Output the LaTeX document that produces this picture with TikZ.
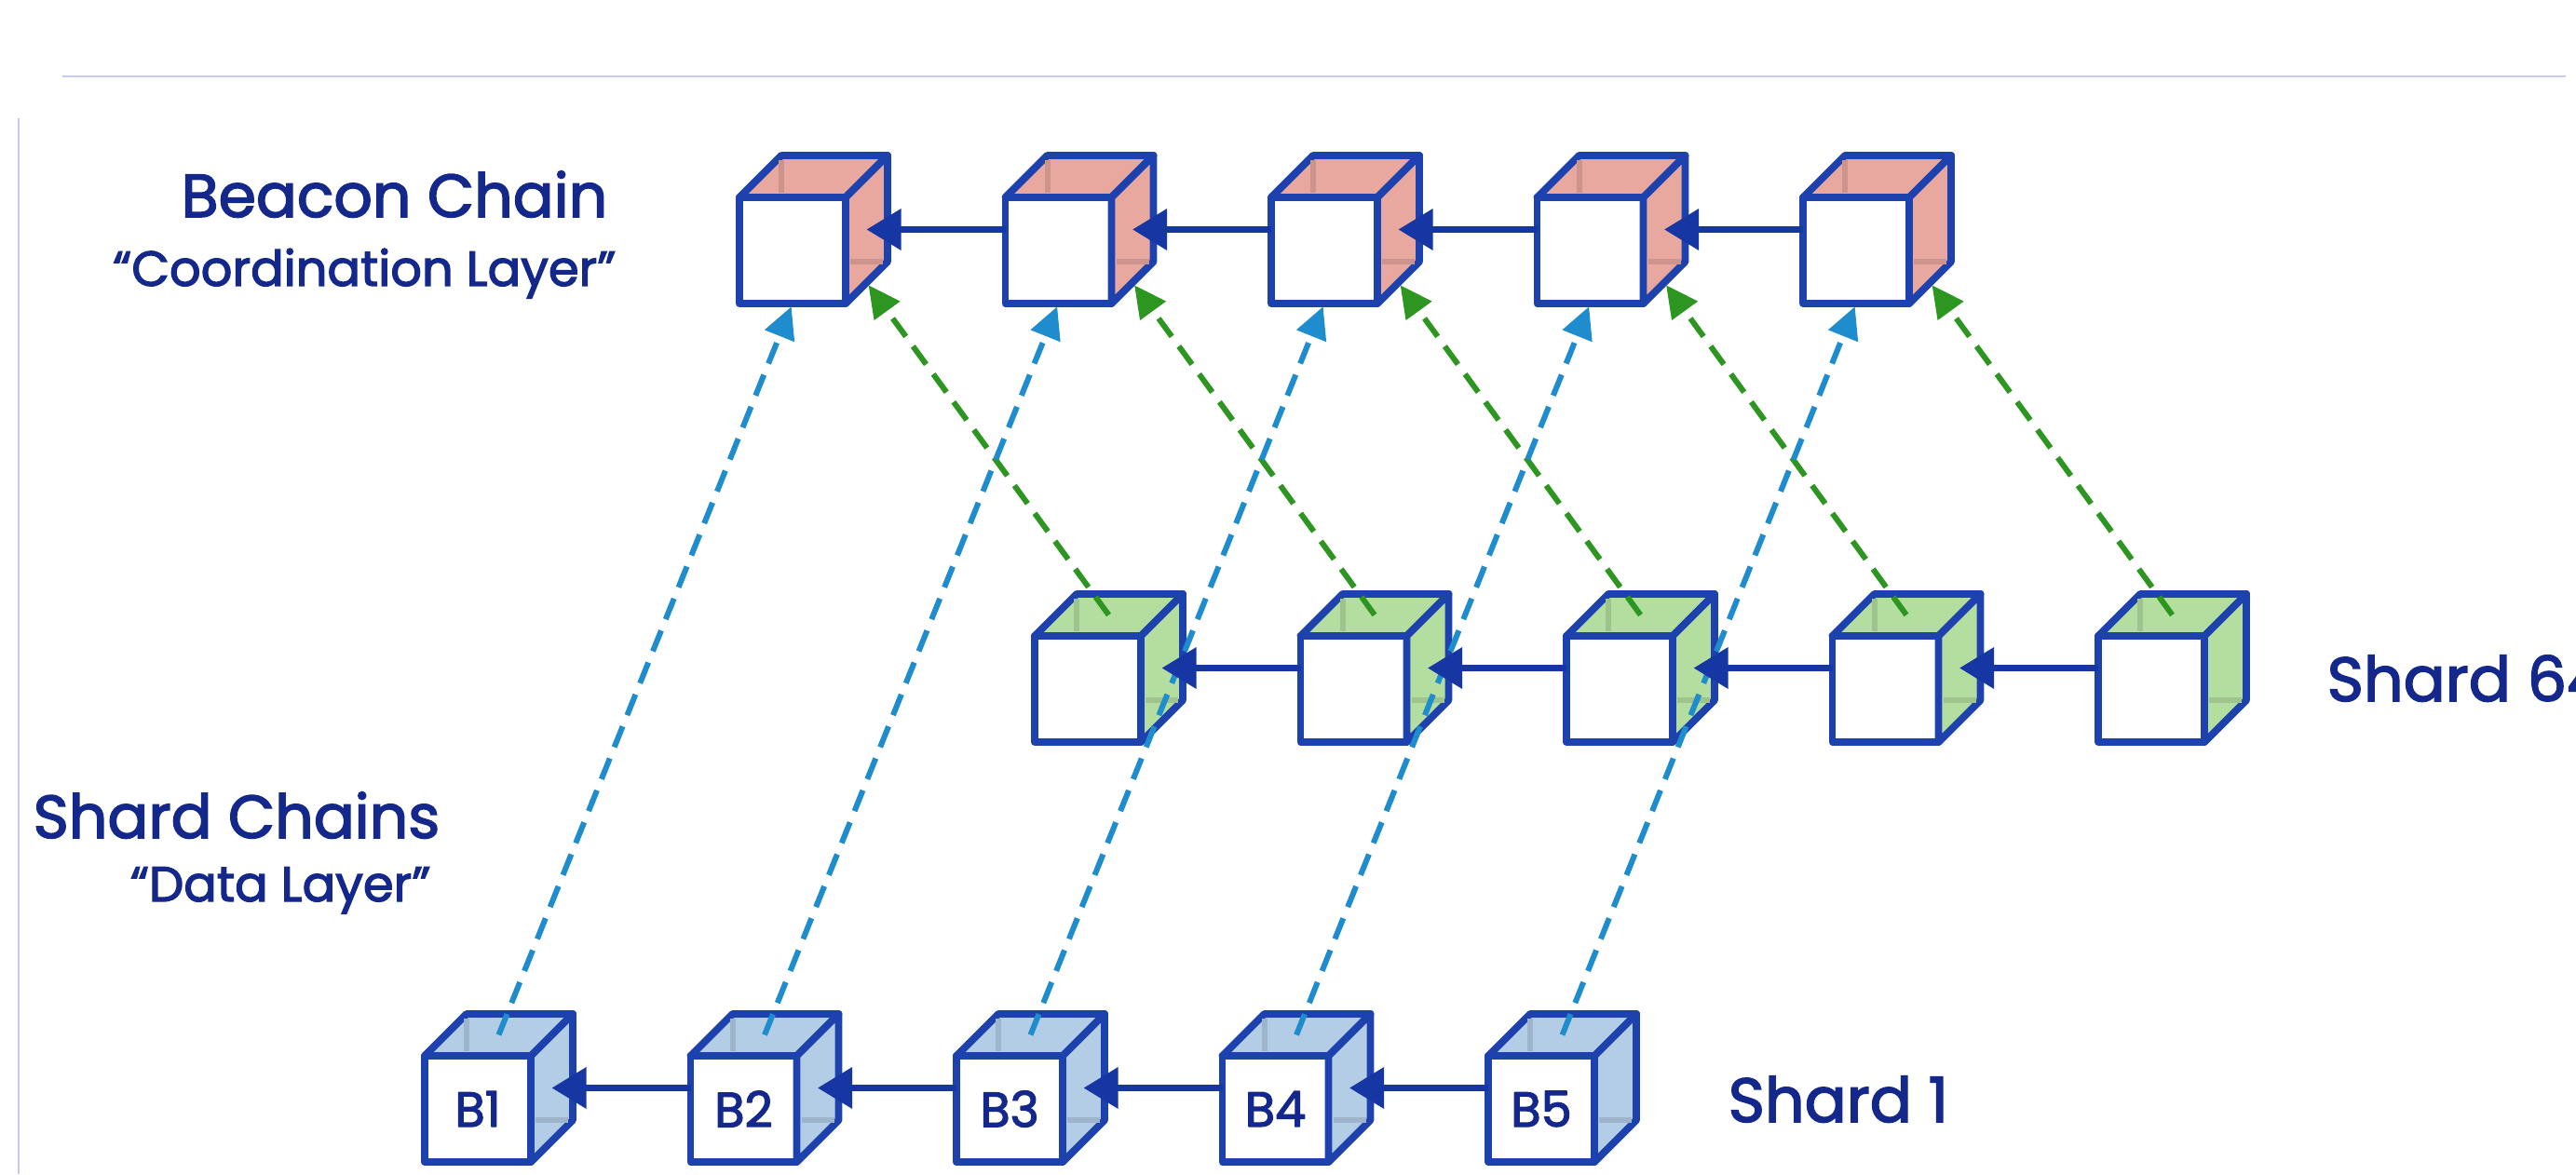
\documentclass[tikz,border=0pt]{standalone}
\usepackage{fontspec}
\setmainfont{Poppins}[FakeBold=2.4]
\usetikzlibrary{arrows.meta}

\definecolor{hrana}{HTML}{1D42AE}
\definecolor{sipka}{HTML}{1637A3}
\definecolor{popis}{HTML}{13288A}
\definecolor{ruzova}{HTML}{E8A8A0}
\definecolor{zelena}{HTML}{B4DEA0}
\definecolor{modra}{HTML}{B4CDE6}
\definecolor{modraodkaz}{HTML}{1E8CCD}
\definecolor{zelenaodkaz}{HTML}{2D9620}
\definecolor{ramecek}{HTML}{C4C8FF}

\begin{document}
\begin{tikzpicture}[
        scale=1,
        kostka/.style={draw=hrana, fill=white, line width=0.078cm, line join=round,
            minimum size=1.14cm, inner sep=0pt, outer sep=0pt,
            text=popis, font=\fontsize{15}{18}\selectfont},
        stena/.style={draw=hrana, line width=0.078cm, line join=round},
        skryta/.style={line width=0.06cm, shorten <=0.05cm, shorten >=0.05cm},
        retez/.style={-{Triangle[length=0.37cm, width=0.43cm]}, line width=0.068cm, draw=sipka, fill=sipka},
        odkaz/.style={-{Triangle[length=0.34cm, width=0.33cm]}, line width=0.06cm,
            dash pattern=on 0.24cm off 0.13cm, shorten >=1pt},
        nadpis/.style={text=popis, font=\fontsize{18.5}{22}\selectfont, inner sep=0pt},
        podnadpis/.style={text=popis, font=\fontsize{15}{18}\selectfont, inner sep=0pt}
    ]
    \clip (0,0) rectangle (27.66,12.61);

    % Okraje snímku
    \draw[ramecek, line width=0.015cm] (0.67,11.79) -- (27.55,11.79);
    \draw[ramecek, line width=0.015cm] (0.20,11.34) -- (0.20,0);

    % Kostky (beacon, shard 64, shard 1)
    \foreach \r/\x/\y/\barva/\lbl in {bc/8.51/9.92/ruzova/0, sh/11.68/5.21/zelena/0, sb/5.13/0.70/modra/1}
      \foreach \i in {1,...,5} {
        \node[kostka] (\r\i) at ({\x+2.855*(\i-1)},\y) {\ifnum\lbl=1 B\i\fi};
        \filldraw[stena, fill=\barva] (\r\i.north west) -- ++(0.45,0.45) -- ++(1.14,0) -- (\r\i.north east) -- cycle;
        \filldraw[stena, fill=\barva] (\r\i.north east) -- ++(0.45,0.45) -- ++(0,-1.14) -- (\r\i.south east) -- cycle;
        \draw[skryta, \barva!88!black] ([shift={(0.45,0.45)}]\r\i.north west) -- ++(0,-0.45);
        \draw[skryta, \barva!88!black] ([shift={(0.45,0.45)}]\r\i.south east) -- ++(-0.45,0);
        \coordinate (\r\i-s) at ([shift={(0.225,0.225)}]\r\i.east);
        \coordinate (\r\i-t) at ([shift={(0.225,0.225)}]\r\i.north);
        \coordinate (\r\i-e) at ([shift={(0.225,0.225)}]\r\i.south east);
      }

    % Odkazy do beacon chain
    \foreach \i in {1,...,5} {
        \draw[odkaz, modraodkaz] (sb\i-t) -- (bc\i.south);
        \draw[odkaz, zelenaodkaz] (sh\i-t) -- (bc\i-e);
    }

    % Řetězy
    \foreach \r in {bc,sh,sb}
      \foreach \i [count=\j from 2] in {1,...,4}
        \draw[retez] (\r\j.west |- \r\i-s) -- (\r\i-s);

    % Popisky
    \node[nadpis, anchor=base east] (beacon) at (6.53,10.28) {Beacon Chain};
    \node[podnadpis, anchor=base east] (beaconpod) at (6.62,9.54) {“Coordination Layer”};
    \node[nadpis, anchor=base east] (shardy) at (4.73,3.61) {Shard Chains};
    \node[podnadpis, anchor=base east] (shardypod) at (4.63,2.93) {“Data Layer”};
    \node[nadpis, anchor=base west, font=\fontsize{19}{22}\selectfont] (shard64) at (24.98,5.08) {Shard 64};
    \node[nadpis, anchor=base west, font=\fontsize{19}{22}\selectfont] (shard1) at (18.55,0.56) {Shard 1};

    \end{tikzpicture}
\end{document}
